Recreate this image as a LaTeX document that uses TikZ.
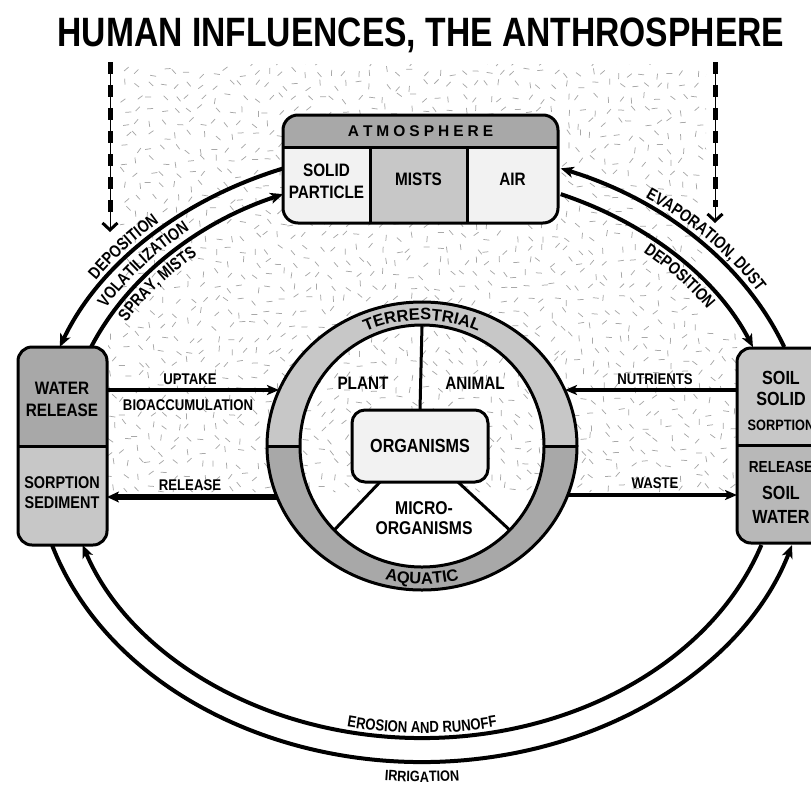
\documentclass[tikz,border=0pt]{standalone}
\usepackage{fontspec}
\setmainfont{Liberation Sans}
\newfontfamily\condfont{Liberation Sans}[FakeStretch=0.85]
\newfontfamily\arcfamily{Liberation Sans}[FakeStretch=0.82]
\newfontfamily\titlefont{Liberation Sans}[FakeStretch=0.82]
\usetikzlibrary{arrows.meta,decorations.text}

\definecolor{gdark}{gray}{0.66}
\definecolor{gmid}{gray}{0.78}
\definecolor{gpale}{gray}{0.95}
\definecolor{gsoil}{gray}{0.72}
\definecolor{speck}{gray}{0.66}

\newcommand\fsz[2]{\fontsize{#1}{#2}\selectfont}
\newcommand\arclab{\arcfamily\bfseries\fontsize{17}{17}\selectfont}
\newcommand\ringlab{\bfseries\fontsize{16.5}{16.5}\selectfont}
\newcommand\botlab{\arcfamily\bfseries\fontsize{16}{16}\selectfont}
\newcommand\irrlab{\condfont\bfseries\fontsize{15}{15}\selectfont}

\begin{document}
\begin{tikzpicture}[x=1pt, y=-1pt,
  lbl/.style={inner sep=0pt, font=\condfont\bfseries},
  boxline/.style={line width=3pt},
  speckle/.style={draw=speck, line width=0.75pt},
  looparrow/.style={line width=4pt, -{Stealth[length=13pt,width=11pt,inset=3.5pt]}},
  flow/.style={line width=4pt, -{Stealth[length=12pt,width=10pt,inset=3pt]}},
  heavyflow/.style={line width=5.5pt, -{Stealth[length=12pt,width=11pt,inset=3pt]}},
  human/.style={line width=5pt, dash pattern=on 12pt off 11pt},
  humanguide/.style={line width=0.7pt, -{Straight Barb[length=7pt,width=15pt,line width=3pt]}},
  alongtext/.style={decorate, decoration={text along path, text align=center, text={#1}}},
  shell/.style={inner sep=0pt, outer sep=0pt}
]
\useasboundingbox (0,0) rectangle (811,785);

% ---------- speckled background ----------
\pgfmathsetseed{4242}
\begin{scope}
  \clip (120,64) -- (706,64) -- (706,330) -- (737,330) -- (737,492)
        -- (108,492) -- (108,330) -- (120,330) -- cycle;
  \foreach \i in {0,...,49}{
    \foreach \j in {0,...,35}{
      \pgfmathsetmacro{\px}{112+13*\i+4*rand}
      \pgfmathsetmacro{\py}{60+12.6*\j+4*rand}
      \pgfmathsetmacro{\pa}{45*random(0,3)+10*rand}
      \draw[speckle] (\px,\py) ++(\pa:3) -- ++(\pa+180:6);
    }
  }
\end{scope}

% ---------- reference points ----------
\coordinate (ctr) at (422,446);   % centre of the organism ring
\coordinate (ectr) at (422,455);  % centre of the transport loop

% ---------- organisms disc ----------
\node[shell, minimum width=136pt, minimum height=72pt] (org) at (420,446) {};
\coordinate (mL) at (380,482);
\coordinate (mR) at (458,482);
\begin{scope}
  \clip (ctr) ellipse [x radius=122, y radius=121];
  \fill[white] (mL) -- (230,635) -- (608,629) -- (mR) -- cycle;
\end{scope}
\path (ctr) ++(270:122 and 121) coordinate (secT);
\path (ctr) ++(136:122 and 121) coordinate (secL);
\path (ctr) ++(44:122 and 121) coordinate (secR);
\draw[boxline] (secT) -- (org.north);
\draw[boxline] (mL) -- (secL);
\draw[boxline] (mR) -- (secR);

% terrestrial / aquatic ring
\fill[gmid] (ctr) ++(180:155 and 144) arc[start angle=180, end angle=360, x radius=155, y radius=144]
  -- ++(-33,0) arc[start angle=360, end angle=180, x radius=122, y radius=121] -- cycle;
\fill[gdark] (ctr) ++(0:155 and 144) arc[start angle=0, end angle=180, x radius=155, y radius=144]
  -- ++(33,0) arc[start angle=180, end angle=0, x radius=122, y radius=121] -- cycle;
\draw[boxline] (ctr) ellipse [x radius=155, y radius=144];
\draw[boxline] (ctr) ellipse [x radius=122, y radius=121];
\draw[boxline] (ctr) ++(-155,0) -- ++(33,0);
\draw[boxline] (ctr) ++(155,0) -- ++(-33,0);
\path[alongtext={|\ringlab|TERRESTRIAL}] (ctr) ++(236:133 and 126)
  arc[start angle=236, end angle=304, x radius=133, y radius=126];
\path[alongtext={|\ringlab|AQUATIC}] (ctr) ++(115:147 and 138)
  arc[start angle=115, end angle=65, x radius=147, y radius=138];

% central box
\draw[boxline, fill=gpale, rounded corners=13pt] (org.north west) rectangle (org.south east);
\node[lbl, font=\condfont\bfseries\fsz{19}{19}] (orgtxt) at (org.center) {ORGANISMS};
\node[lbl, font=\condfont\bfseries\fsz{18}{18}] (plant) at (363,383) {PLANT};
\node[lbl, font=\condfont\bfseries\fsz{18}{18}] (animal) at (475,383) {ANIMAL};
\node[lbl, font=\condfont\bfseries\fsz{18.5}{20}, align=center] (micro) at (424,518) {MICRO-\\ORGANISMS};

% ---------- atmosphere ----------
\node[shell, minimum width=275pt, minimum height=108pt] (atm) at (420.5,169) {};
\begin{scope}
  \clip[rounded corners=15pt] (atm.north west) rectangle (atm.south east);
  \fill[gdark] (atm.north west) rectangle ([yshift=-32pt]atm.north east);
  \fill[gpale] ([yshift=-32pt]atm.north west) rectangle (atm.south east);
  \fill[gmid] (370,147) rectangle (467,223);
\end{scope}
\draw[boxline, rounded corners=15pt] (atm.north west) rectangle (atm.south east);
\draw[boxline] ([yshift=-32pt]atm.north west) -- ([yshift=-32pt]atm.north east);
\draw[boxline] (370,147) -- (370,223);
\draw[boxline] (467,147) -- (467,223);
\node[lbl, font=\bfseries\fsz{15.5}{15.5}] (atmtxt) at (420.5,131)
  {A\kern4pt T\kern4pt M\kern4pt O\kern4pt S\kern4pt P\kern4pt H\kern4pt E\kern4pt R\kern4pt E};
\node[lbl, font=\condfont\bfseries\fsz{18}{22}, align=center] (solid) at (326.5,181) {SOLID\\PARTICLE};
\node[lbl, font=\condfont\bfseries\fsz{18}{18}] (mists) at (418.5,179) {MISTS};
\node[lbl, font=\condfont\bfseries\fsz{18}{18}] (air) at (512.5,179) {AIR};

% ---------- water compartment ----------
\node[shell, minimum width=89pt, minimum height=198pt] (wbox) at (62.5,446) {};
\begin{scope}
  \clip[rounded corners=14pt] (wbox.north west) rectangle (wbox.south east);
  \fill[gdark] (wbox.north west) rectangle (wbox.east);
  \fill[gmid] (wbox.west) rectangle (wbox.south east);
\end{scope}
\draw[boxline, rounded corners=14pt] (wbox.north west) rectangle (wbox.south east);
\draw[boxline] (wbox.west) -- (wbox.east);
\node[lbl, font=\condfont\bfseries\fsz{18}{22}, align=center] (water) at (62,399) {WATER\\RELEASE};
\node[lbl, font=\condfont\bfseries\fsz{17}{20}, align=center] (sedim) at (62,493) {SORPTION\\SEDIMENT};

% ---------- soil compartment ----------
\node[shell, minimum width=89pt, minimum height=195pt] (sbox) at (781.5,445.5) {};
\begin{scope}
  \clip[rounded corners=14pt] (sbox.north west) rectangle (sbox.south east);
  \fill[gmid] (sbox.north west) rectangle (sbox.east);
  \fill[gsoil] (sbox.west) rectangle (sbox.south east);
\end{scope}
\draw[boxline, rounded corners=14pt] (sbox.north west) rectangle (sbox.south east);
\draw[boxline] (sbox.west) -- (sbox.east);
\node[lbl, font=\condfont\bfseries\fsz{19}{21}, align=center] (soilsolid) at (781,388) {SOIL\\SOLID};
\node[lbl, font=\condfont\bfseries\fsz{15}{15}] (sorp) at (781,425) {SORPTION};
\node[lbl, font=\condfont\bfseries\fsz{16}{16}] (srel) at (781,467) {RELEASE};
\node[lbl, font=\condfont\bfseries\fsz{19}{24}, align=center] (soilwater) at (781,505) {SOIL\\WATER};

% ---------- exchanges with the organisms ----------
\coordinate (upS) at (107,390);  \coordinate (upE) at (279,390);
\coordinate (reS) at (277,497);  \coordinate (reE) at (107,497);
\coordinate (nuS) at (737,390);  \coordinate (nuE) at (565,390);
\coordinate (waS) at (568,495);  \coordinate (waE) at (737,495);
\draw[flow] (upS) -- (upE);
\draw[heavyflow] (reS) -- (reE);
\draw[flow] (nuS) -- (nuE);
\draw[flow] (waS) -- (waE);
\node[lbl, font=\condfont\bfseries\fsz{15.5}{15.5}] (uptake) at (190,379) {UPTAKE};
\node[lbl, font=\condfont\bfseries\fsz{15.5}{15.5}] (bioacc) at (188,405) {BIOACCUMULATION};
\node[lbl, font=\condfont\bfseries\fsz{15.5}{15.5}] (release) at (190,485) {RELEASE};
\node[lbl, font=\condfont\bfseries\fsz{15.5}{15.5}] (nutr) at (655,379) {NUTRIENTS};
\node[lbl, font=\condfont\bfseries\fsz{15.5}{15.5}] (waste) at (655,483) {WASTE};

% ---------- transport loop ----------
\path (ectr) ++(249:387 and 307)    coordinate (depLs);
\path (ectr) ++(202.4:358 and 283)  coordinate (volS);
\path (ectr) ++(339.4:387 and 307)  coordinate (evaS);
\path (ectr) ++(292.8:358 and 283)  coordinate (depRs);
\path (ectr) ++(18.54:358 and 283)  coordinate (eroS);
\path (ectr) ++(162.95:387 and 307) coordinate (irrS);
\draw[looparrow] (depLs) arc[start angle=249, end angle=200.6, x radius=387, y radius=307];
\draw[looparrow] (volS) arc[start angle=202.4, end angle=247.2, x radius=358, y radius=283];
\draw[looparrow] (evaS) arc[start angle=339.4, end angle=291, x radius=387, y radius=307];
\draw[looparrow] (depRs) arc[start angle=292.8, end angle=337.6, x radius=358, y radius=283];
\draw[looparrow] (eroS) arc[start angle=18.54, end angle=161.46, x radius=358, y radius=283];
\draw[looparrow] (irrS) arc[start angle=162.95, end angle=17.05, x radius=387, y radius=307];

\path[alongtext={|\arclab|DEPOSITION}] (ectr) ++(203:393 and 313)
  arc[start angle=203, end angle=238, x radius=393, y radius=313];
\path[alongtext={|\arclab|VOLATILIZATION}] (ectr) ++(202:366 and 291)
  arc[start angle=202, end angle=238, x radius=366, y radius=291];
\path[alongtext={|\arclab|SPRAY, MISTS}] (ectr) ++(203:341 and 266)
  arc[start angle=203, end angle=235, x radius=341, y radius=266];
\path[alongtext={|\arclab|EVAPORATION, DUST}] (ectr) ++(299:393 and 313)
  arc[start angle=299, end angle=335, x radius=393, y radius=313];
\path[alongtext={|\arclab|DEPOSITION}] (ectr) ++(304:341 and 266)
  arc[start angle=304, end angle=334, x radius=341, y radius=266];
\path[alongtext={|\botlab|EROSION AND RUNOFF}] (ectr) ++(115:353 and 278)
  arc[start angle=115, end angle=65, x radius=353, y radius=278];
\path[alongtext={|\irrlab|IRRIGATION}] (ectr) ++(101:406 and 327)
  arc[start angle=101, end angle=79, x radius=406, y radius=327];

% ---------- human influences ----------
\coordinate (hlT) at (110,62);  \coordinate (hlD) at (110,215);  \coordinate (hlB) at (110,232);
\coordinate (hrT) at (715,62);  \coordinate (hrD) at (715,207);  \coordinate (hrB) at (715,223);
\draw[humanguide] (hlT) -- (hlB);
\draw[human] (hlT) -- (hlD);
\draw[humanguide] (hrT) -- (hrB);
\draw[human] (hrT) -- (hrD);

\node[inner sep=0pt, font=\titlefont\bfseries\fsz{41}{41}] (title) at (421,35)
  {HUMAN INFLUENCES, THE ANTHROSPHERE};
\end{tikzpicture}
\end{document}
